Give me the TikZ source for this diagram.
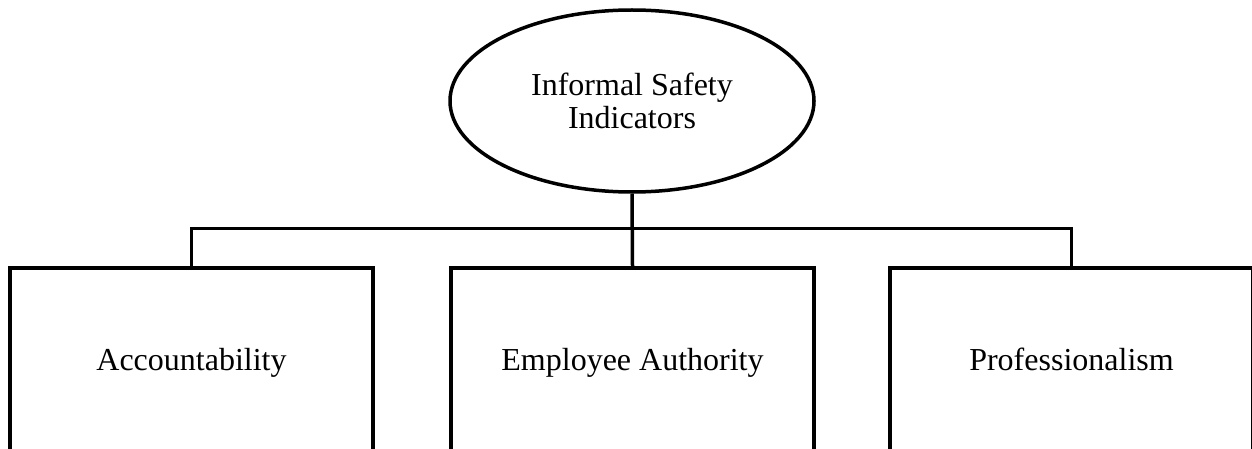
\documentclass[tikz,border=0pt]{standalone}
\usepackage{fontspec}
\setmainfont{Liberation Serif}
\usetikzlibrary{shapes.geometric}
\begin{document}
\begin{tikzpicture}[x=1pt,y=1pt,
  conn/.style={line width=3.5pt},
  topnode/.style={ellipse,draw,line width=3.5pt,minimum width=364pt,minimum height=182pt,inner sep=0pt,align=center,font=\fontsize{32}{33}\selectfont},
  leaf/.style={rectangle,draw,line width=3.5pt,minimum width=363pt,minimum height=184pt,inner sep=0pt,text height=25pt,text depth=5pt,font=\fontsize{32}{38}\selectfont}]
\clip (0,0) rectangle (1252,448);
\fill[white] (0,0) rectangle (1252,448);
\node[topnode] (top) at (632,347) {Informal Safety\\Indicators};
\node[leaf] (acc) at (191.5,88) {Accountability};
\node[leaf] (emp) at (632.5,88) {Employee Authority};
\node[leaf] (pro) at (1071.5,88) {Professionalism};
\draw[conn] (top.south) -- (emp.north);
\draw[conn] (acc.north) -- ++(0,38) coordinate (busl) -| (pro.north);
\end{tikzpicture}
\end{document}
